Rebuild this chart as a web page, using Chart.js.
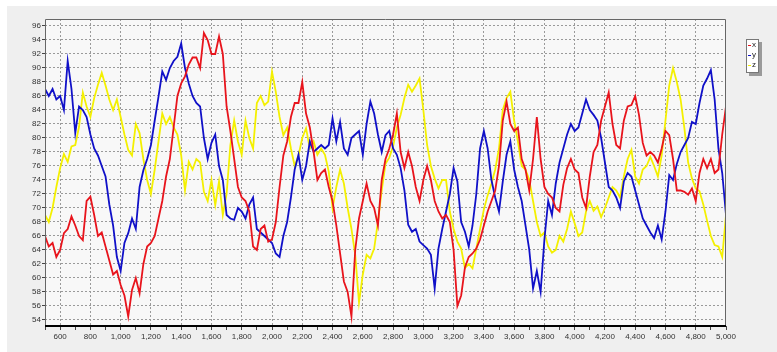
<!DOCTYPE html>
<html>
<head>
<meta charset="utf-8">
<script src="https://cdn.jsdelivr.net/npm/chart.js@4.4.1/dist/chart.umd.min.js"></script>
<style>
  html, body { margin: 0; padding: 0; background: #fff; }
  #wrap { position: relative; width: 777px; height: 352px; }
  #legend {
    position: absolute; left: 746px; top: 39px; width: 11px; height: 32px;
    background: #fff; border: 1px solid #777; box-shadow: 3px 3px 0 #9a9a9a;
    font: 8px 'Liberation Sans', sans-serif; color: #222;
  }
  #legend div { position: relative; height: 10px; line-height: 10px; padding-left: 5px; }
  #legend span { position: absolute; left: 1px; top: 5px; width: 3px; height: 1px; }
</style>
</head>
<body>
<div id="wrap">
  <canvas id="c" width="777" height="352"></canvas>
  <div id="legend"></div>
</div>
<script>
// sample positions along the x axis (every 25)
const xValues = [
  500, 525, 550, 575, 600, 625, 650, 675, 700, 725,
  750, 775, 800, 825, 850, 875, 900, 925, 950, 975,
  1000, 1025, 1050, 1075, 1100, 1125, 1150, 1175, 1200, 1225,
  1250, 1275, 1300, 1325, 1350, 1375, 1400, 1425, 1450, 1475,
  1500, 1525, 1550, 1575, 1600, 1625, 1650, 1675, 1700, 1725,
  1750, 1775, 1800, 1825, 1850, 1875, 1900, 1925, 1950, 1975,
  2000, 2025, 2050, 2075, 2100, 2125, 2150, 2175, 2200, 2225,
  2250, 2275, 2300, 2325, 2350, 2375, 2400, 2425, 2450, 2475,
  2500, 2525, 2550, 2575, 2600, 2625, 2650, 2675, 2700, 2725,
  2750, 2775, 2800, 2825, 2850, 2875, 2900, 2925, 2950, 2975,
  3000, 3025, 3050, 3075, 3100, 3125, 3150, 3175, 3200, 3225,
  3250, 3275, 3300, 3325, 3350, 3375, 3400, 3425, 3450, 3475,
  3500, 3525, 3550, 3575, 3600, 3625, 3650, 3675, 3700, 3725,
  3750, 3775, 3800, 3825, 3850, 3875, 3900, 3925, 3950, 3975,
  4000, 4025, 4050, 4075, 4100, 4125, 4150, 4175, 4200, 4225,
  4250, 4275, 4300, 4325, 4350, 4375, 4400, 4425, 4450, 4475,
  4500, 4525, 4550, 4575, 4600, 4625, 4650, 4675, 4700, 4725,
  4750, 4775, 4800, 4825, 4850, 4875, 4900, 4925, 4950, 4975,
  5000
];

// red
const seriesX = [
  66, 64.5, 65, 63, 64, 66.4, 67, 68.8, 67.5, 66,
  65.4, 71, 71.6, 69, 66, 66.5, 64.5, 62.5, 60.5, 61,
  59, 57.5, 54.5, 58.3, 60, 57.8, 62, 64.5, 65, 66,
  68.5, 71, 74.5, 77, 81.5, 86, 87.8, 88.8, 90.5, 91.5,
  91.5, 90, 95, 94, 92, 92, 94.5, 92, 84.5, 81,
  77, 73, 71.5, 71, 69.5, 64.5, 64, 67, 67.5, 65.2,
  65.5, 68, 73, 77.5, 79.5, 83, 85, 85, 88, 83.5,
  81.5, 78, 74, 75, 75.5, 73, 71, 67.5, 63.5, 59.5,
  58, 54.5, 64, 68.5, 71, 73.5, 71, 70, 67.5, 74,
  77, 78.5, 80.5, 83.5, 78, 75.7, 78, 76, 73, 71,
  74, 76, 74, 71, 69.5, 68.5, 69, 68, 64, 56,
  57.5, 61.5, 63, 63.5, 64.2, 65.5, 67.5, 69.5, 71, 72.5,
  76, 82.5, 85.2, 82, 81, 81.5, 77, 75.5, 72.5, 77,
  83, 77, 73, 72, 71.5, 70, 69.5, 73.3, 75.7, 77,
  75.5, 75, 71.5, 70, 74.5, 78, 79, 82.5, 84.5, 86.5,
  82, 79, 78.5, 82.5, 84.5, 84.7, 86, 83.3, 79.3, 77.5,
  78, 77.5, 76.5, 78.5, 81, 80.4, 77, 72.5, 72.5, 72.3,
  71.9, 72.8, 71, 75, 77, 75.7, 77, 75, 75.5, 80.5,
  84.5
];

// blue
const seriesY = [
  87, 86, 87, 85.5, 86, 84, 91, 87, 80.7, 84.5,
  84, 83, 80.5, 78.5, 77.5, 76, 74.5, 70.5, 67.5, 63,
  61, 65, 66.4, 68.5, 67, 73, 75.4, 77, 79, 82.5,
  85.9, 89.5, 88.3, 90, 91, 91.6, 93.5, 90, 87.8, 86,
  85, 84.5, 80, 77, 79.3, 80.5, 76, 74, 69, 68.5,
  68.3, 70, 69.5, 68.5, 70.5, 71.5, 67, 66.5, 66, 65.5,
  65, 63.5, 63, 66, 68, 71.5, 75.5, 77.6, 74, 76,
  79.5, 78, 78.5, 79, 78.5, 79, 82.8, 79.5, 82.3, 78.5,
  77.6, 80, 80.5, 81, 77.6, 82, 85.2, 83.5, 80.5, 78,
  80.4, 81, 78.5, 77.6, 75.7, 72.5, 67.6, 66.6, 67, 65.2,
  64.7, 64.2, 63.3, 58.5, 64.2, 67, 69.5, 72, 75.7, 73.8,
  68, 66.6, 64.5, 67.5, 72, 78.5, 81, 78.5, 74, 71.5,
  69.5, 73.8, 77.6, 79.5, 75.5, 73, 71, 67.5, 64, 58.5,
  61, 58, 65.5, 71, 69, 73.5, 76.5, 78.5, 80.5, 82,
  81, 81.5, 83.5, 85.5, 84, 83.3, 82.5, 80, 76.5, 73,
  72.5, 71.5, 70, 73.8, 75, 74.5, 72.5, 70.5, 68.5, 67.5,
  66.5, 65.7, 67.5, 65.5, 69.5, 74.7, 74, 76.3, 78, 79,
  80, 82.3, 82, 85, 87.5, 88.5, 89.7, 85.5, 78.5, 75,
  69
];

// yellow
const seriesZ = [
  69, 68, 70, 73, 75.7, 77.7, 76.6, 78.8, 79, 81.6,
  86.5, 84.5, 83, 85.7, 87.6, 89.3, 87.5, 85.5, 84, 85.5,
  83, 80.5, 78.3, 77.5, 82, 80.7, 77, 74, 72, 75.5,
  79.5, 83.5, 82, 83, 81.5, 80.5, 77.5, 72.5, 76.6, 75.5,
  77, 76.5, 72.3, 71, 74, 70.4, 73.8, 69, 72, 79,
  82.5, 79.5, 77.6, 82.5, 80, 78.5, 85, 86, 84.7, 85.2,
  89.5, 86.6, 83, 80.4, 81.5, 78.5, 76, 77.5, 80, 81.4,
  78.5, 79.5, 77.6, 78.5, 77.6, 75.2, 70, 73, 75.5, 73.5,
  70, 67, 63.3, 56.5, 60.5, 63.3, 62.8, 64.2, 68, 72.5,
  76.3, 77.2, 78.8, 81.5, 83.3, 85.7, 87.6, 86.6, 87.5, 88.5,
  84, 79, 76, 74.2, 72.8, 74, 74, 69.5, 67, 65.2,
  64.2, 61.4, 62, 61.4, 64.2, 67, 69.8, 71.8, 73.5, 75.5,
  78.5, 84, 85.7, 86.6, 82.5, 79.5, 76, 75.5, 74, 71,
  68, 66, 66.5, 64.5, 63.6, 64, 66, 65.2, 67, 69.5,
  67.8, 66, 66.5, 69.5, 71, 69.6, 70.2, 68.7, 70, 71.5,
  73, 72.5, 71.5, 74.5, 77, 78.3, 74.5, 73.5, 75.5, 76,
  77.3, 76, 74.5, 77.5, 82.5, 87.5, 90, 88, 85.5, 81.4,
  76.5, 74.2, 72.8, 72.4, 70.5, 68.2, 66, 64.7, 64.5, 63,
  69
];

const seriesNames = ['x', 'y', 'z'];
const seriesColors = ['#e8141c', '#1010c8', '#f4f000'];

const toPoints = ys => ys.map((v, i) => ({ x: xValues[i], y: v }));

// background panel + plot frame
const frame = {
  id: 'frame',
  beforeDraw(chart) {
    const { ctx, chartArea: a } = chart;
    ctx.save();
    ctx.fillStyle = '#ffffff';
    ctx.fillRect(0, 0, chart.width, chart.height);
    ctx.fillStyle = '#efefef';
    ctx.fillRect(7, 6, chart.width - 7, chart.height - 6);
    ctx.fillStyle = '#f8f8f8';
    ctx.fillRect(a.left, a.top, a.right - a.left, a.bottom - a.top);
    ctx.restore();
  },
  afterDraw(chart) {
    const { ctx, chartArea: a } = chart;
    ctx.save();
    ctx.strokeStyle = '#666';
    ctx.lineWidth = 1;
    ctx.beginPath();
    ctx.moveTo(a.left + 0.5, a.bottom);
    ctx.lineTo(a.left + 0.5, a.top + 0.5);
    ctx.lineTo(a.right - 0.5, a.top + 0.5);
    ctx.lineTo(a.right - 0.5, a.bottom);
    ctx.stroke();
    ctx.strokeStyle = '#000';
    ctx.lineWidth = 2;
    ctx.beginPath();
    ctx.moveTo(a.left, a.bottom);
    ctx.lineTo(a.right, a.bottom);
    ctx.stroke();
    ctx.restore();
  }
};

const tickFont = { family: "'Liberation Sans Narrow', 'Liberation Sans', sans-serif", size: 8 };

new Chart(document.getElementById('c'), {
  type: 'line',
  data: {
    datasets: [seriesX, seriesY, seriesZ].map((s, i) => ({
      label: seriesNames[i],
      data: toPoints(s),
      borderColor: seriesColors[i],
      borderWidth: 1.8,
      pointRadius: 0,
      tension: 0
    }))
  },
  options: {
    responsive: false,
    animation: false,
    layout: { padding: { left: 0, top: 19, right: 51, bottom: 0 } },
    plugins: { legend: { display: false }, tooltip: { enabled: false } },
    scales: {
      x: {
        type: 'linear',
        min: 500,
        max: 5000,
        afterFit: s => { s.height = 26; },
        ticks: {
          stepSize: 100,
          autoSkip: false,
          maxRotation: 0,
          padding: 2,
          color: '#333',
          font: tickFont,
          callback: v => (v % 200 === 0 ? v.toLocaleString('en-US') : '')
        },
        grid: {
          color: c => (c.tick && c.tick.value % 200 === 0 && c.tick.value > 500 && c.tick.value < 5000 ? '#9a9a9a' : 'rgba(0,0,0,0)'),
          tickColor: '#444',
          tickLength: 4,
          tickBorderDash: []
        },
        border: { display: false, dash: [2, 2] }
      },
      y: {
        min: 53.14,
        max: 97,
        ticks: {
          stepSize: 2,
          includeBounds: false,
          padding: 1,
          color: '#333',
          font: tickFont
        },
        afterFit: s => { s.width = 45; },
        grid: {
          color: '#9a9a9a',
          tickColor: '#444',
          tickLength: 3,
          tickBorderDash: []
        },
        border: { display: false, dash: [2, 2] }
      }
    }
  },
  plugins: [frame]
});

const legend = document.getElementById('legend');
seriesNames.forEach((n, i) => {
  const row = document.createElement('div');
  row.innerHTML = '<span style="background:' + seriesColors[i] + '"></span>' + n;
  legend.appendChild(row);
});
</script>
</body>
</html>
